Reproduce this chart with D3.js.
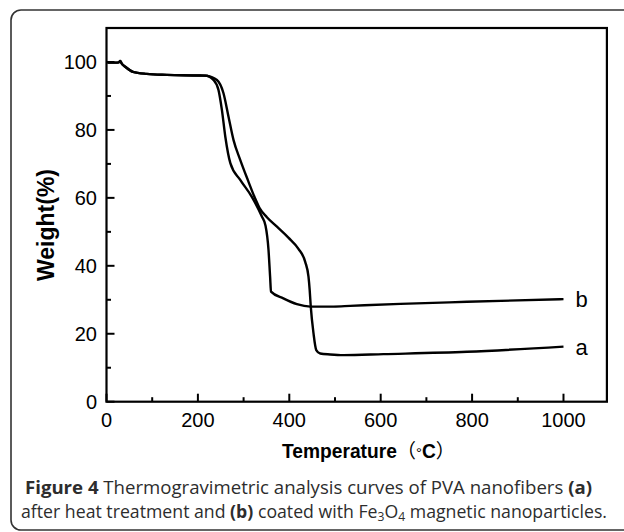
<!DOCTYPE html>
<html><head><meta charset="utf-8">
<script src="https://cdn.jsdelivr.net/npm/d3@7"></script>
<style>html,body{margin:0;padding:0;background:#fff;}svg{display:block;}</style>
</head><body>
<svg id="c" width="624" height="532"></svg>
<script>
// Data
const tempA = [2,20,27,30,33,41,58,88,132,205,219.7,241.6,256,267,278,292.6,310,325,335,351,373,398,420,435,442,444.6,447,453,459,467.6,489.5,518.6,606,789,1000];
const weightA = [99.8,99.8,99.9,100.3,99.6,98.6,97.1,96.5,96.2,96.0,95.9,94.7,90.8,83.9,77.0,71.2,65.0,59.9,57.0,54.3,51.5,48.3,45.0,41.1,36.8,32.9,28.0,20.1,15.2,14.2,13.9,13.7,14.0,14.7,16.2];
const tempB = [2,20,27,30,33,41,58,88,132,205,216,234,245,252.5,260,271,292.6,318,340,348,354.5,358,360,387,416.6,446,497,533,643,789,1000];
const weightB = [99.8,99.8,99.9,100.3,99.6,98.6,97.1,96.5,96.2,96.0,96.0,94.7,91.8,85.9,78.0,70.2,65.3,60.3,54.5,51.8,44.7,36.8,32.4,30.4,28.7,28.0,28.0,28.2,28.8,29.4,30.2];
const xMajor = [0,200,400,600,800,1000];
const xMinor = [100,300,500,700,900];
const yMajor = [0,20,40,60,80,100];
const yMinor = [10,30,50,70,90];
const seriesLabels = ["a","b"];

const svg = d3.select("#c");
// frame
svg.append("rect").attr("x",11).attr("y",10).attr("width",640).attr("height",520)
  .attr("rx",10).attr("ry",10).attr("fill","none").attr("stroke","#333").attr("stroke-width",1.6);

const L=106.5, R=606.9, T=28, B=401.7;
const x = d3.scaleLinear().domain([0,1095]).range([L,R]);
const y = d3.scaleLinear().domain([0,110]).range([B,T]);

const g = svg.append("g");
// ticks inside
g.selectAll(".xM").data(xMajor).enter().append("line")
  .attr("x1",d=>x(d)).attr("x2",d=>x(d)).attr("y1",B).attr("y2",B-8).attr("stroke","#000").attr("stroke-width",2);
g.selectAll(".xm").data(xMinor).enter().append("line")
  .attr("x1",d=>x(d)).attr("x2",d=>x(d)).attr("y1",B).attr("y2",B-4.5).attr("stroke","#000").attr("stroke-width",2);
g.selectAll(".yM").data(yMajor).enter().append("line")
  .attr("x1",L).attr("x2",L+8).attr("y1",d=>y(d)).attr("y2",d=>y(d)).attr("stroke","#000").attr("stroke-width",2);
g.selectAll(".ym").data(yMinor).enter().append("line")
  .attr("x1",L).attr("x2",L+4.5).attr("y1",d=>y(d)).attr("y2",d=>y(d)).attr("stroke","#000").attr("stroke-width",2);

// tick labels
g.selectAll(".xl").data(xMajor).enter().append("text")
  .attr("x",d=>x(d)).attr("y",427).attr("text-anchor","middle")
  .attr("font-family","Liberation Sans, Arial, sans-serif").attr("font-size",20).attr("fill","#000").text(d=>d);
g.selectAll(".yl").data(yMajor).enter().append("text")
  .attr("x",97).attr("y",d=>y(d)+7).attr("text-anchor","end")
  .attr("font-family","Liberation Sans, Arial, sans-serif").attr("font-size",20).attr("fill","#000").text(d=>d);

// plot frame
g.append("rect").attr("x",L).attr("y",T).attr("width",R-L).attr("height",B-T)
  .attr("fill","none").attr("stroke","#000").attr("stroke-width",2.2);

// curves
const line = d3.line().x(d=>x(d[0])).y(d=>y(d[1])).curve(d3.curveMonotoneX);
const dataA = tempA.map((t,i)=>[t,weightA[i]]);
const dataB = tempB.map((t,i)=>[t,weightB[i]]);
[dataA,dataB].forEach(d=>{
  g.append("path").datum(d).attr("d",line).attr("fill","none").attr("stroke","#000")
   .attr("stroke-width",2.4).attr("stroke-linejoin","round");
});
// series labels
const lastA = dataA[dataA.length-1], lastB = dataB[dataB.length-1];
g.append("text").attr("x",x(lastA[0])+12).attr("y",y(lastA[1])+8)
  .attr("font-family","Liberation Sans, Arial, sans-serif").attr("font-size",22).text(seriesLabels[0]);
g.append("text").attr("x",x(lastB[0])+12).attr("y",y(lastB[1])+8)
  .attr("font-family","Liberation Sans, Arial, sans-serif").attr("font-size",22).text(seriesLabels[1]);

// axis titles
svg.append("text").attr("transform","translate(54,225) rotate(-90)").attr("text-anchor","middle")
  .attr("font-family","Liberation Sans, Arial, sans-serif").attr("font-weight","bold").attr("font-size",23)
  .text("Weight(%)");
const xt = svg.append("text").attr("x",282).attr("y",458)
  .attr("font-family","Liberation Sans, Arial, sans-serif").attr("font-weight","bold").attr("font-size",19.5)
  .attr("textLength",173).attr("lengthAdjust","spacingAndGlyphs");
xt.append("tspan").text("Temperature");
xt.append("tspan").attr("font-family","Noto Sans CJK SC, sans-serif").attr("font-weight","normal").text("（");
xt.append("tspan").attr("font-weight","normal").attr("font-size",15).text("°");
xt.append("tspan").text("C");
xt.append("tspan").attr("font-family","Noto Sans CJK SC, sans-serif").attr("font-weight","normal").text("）");

// caption
const cf = "Open Sans, Noto Sans, sans-serif";
const c1 = svg.append("text").attr("x",25).attr("y",494).attr("font-family",cf).attr("font-size",17.5)
  .attr("fill","#2d2d2d").attr("textLength",567).attr("lengthAdjust","spacingAndGlyphs");
c1.append("tspan").attr("font-weight","bold").text("Figure 4");
c1.append("tspan").text(" Thermogravimetric analysis curves of PVA nanofibers ");
c1.append("tspan").attr("font-weight","bold").text("(a)");
const c2 = svg.append("text").attr("x",21).attr("y",518).attr("font-family",cf).attr("font-size",17.5)
  .attr("fill","#2d2d2d").attr("textLength",586).attr("lengthAdjust","spacingAndGlyphs");
c2.append("tspan").text("after heat treatment and ");
c2.append("tspan").attr("font-weight","bold").text("(b)");
c2.append("tspan").text(" coated with Fe");
c2.append("tspan").attr("font-size",12).attr("dy",3).text("3");
c2.append("tspan").attr("dy",-3).text("O");
c2.append("tspan").attr("font-size",12).attr("dy",3).text("4");
c2.append("tspan").attr("dy",-3).text(" magnetic nanoparticles.");
</script>
</body></html>
